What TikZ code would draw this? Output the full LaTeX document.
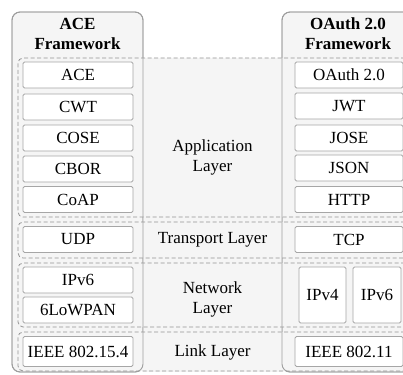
\documentclass[tikz,border=0pt]{standalone}
\usepackage{fontspec}
\setmainfont{Liberation Serif}
\begin{document}
\begin{tikzpicture}[x=1pt,y=-1pt,
  every node/.style={font=\fontsize{17}{20}\selectfont, inner sep=0pt},
  colbox/.style={draw=black!38, fill=black!4, line width=0.9pt, rounded corners=8pt},
  colrim/.style={draw=black!38, line width=0.9pt, rounded corners=8pt},
  layerbox/.style={draw=black!42, fill=black!4, dashed, dash pattern=on 4pt off 2.5pt, line width=0.8pt, rounded corners=5pt},
  pbox/.style={draw=black!35, fill=white, line width=0.8pt, rounded corners=1.5pt, minimum width=110pt, minimum height=26pt},
  rbox/.style={pbox, minimum width=108pt},
  title/.style={align=center, font=\fontsize{17}{20}\selectfont\bfseries},
  lbl/.style={align=center}]
\useasboundingbox (0,0) rectangle (403,374);

% framework columns
\node[colbox, minimum width=131pt, minimum height=360pt] (acecol) at (77.5,192) {};
\node[colbox, minimum width=132pt, minimum height=360pt] (oacol) at (348,192) {};
\fill[black!4] (143,58) rectangle (282,372);

% protocol layers
\node[layerbox, minimum width=392pt, minimum height=159pt] (app) at (214,137.5) {};
\node[layerbox, minimum width=392pt, minimum height=36pt] (trans) at (214,240) {};
\node[layerbox, minimum width=392pt, minimum height=64pt] (net) at (214,295) {};
\node[layerbox, minimum width=392pt, minimum height=39pt] (link) at (214,351.5) {};

% column outlines over the layers
\node[colrim, minimum width=131pt, minimum height=360pt] (acerim) at (77.5,192) {};
\node[colrim, minimum width=132pt, minimum height=360pt] (oarim) at (348,192) {};

% titles
\node[title] (acetitle) at (77.5,34) {ACE\\Framework};
\node[title] (oatitle) at (348,34) {OAuth 2.0\\Framework};

% ACE stack
\node[pbox] (ace) at (78,75) {ACE};
\node[pbox] (cwt) at (78,107) {CWT};
\node[pbox] (cose) at (78,138) {COSE};
\node[pbox] (cbor) at (78,169) {CBOR};
\node[pbox] (coap) at (78,199.5) {CoAP};
\node[pbox] (udp) at (78,239.5) {UDP};
\node[pbox] (ipvsix) at (78,280) {IPv6};
\node[pbox] (lowpan) at (78,310) {6LoWPAN};
\node[pbox, minimum height=30pt] (ieeeA) at (78,351.5) {IEEE 802.15.4};

% OAuth stack
\node[rbox] (oauth) at (349,75) {OAuth 2.0};
\node[rbox] (jwt) at (349,106) {JWT};
\node[rbox] (jose) at (349,138) {JOSE};
\node[rbox] (json) at (349,168) {JSON};
\node[rbox] (http) at (349,199.5) {HTTP};
\node[rbox] (tcp) at (349,239.5) {TCP};
\node[pbox, minimum width=47pt, minimum height=56pt] (ipvfour) at (322.5,295) {IPv4};
\node[pbox, minimum width=48pt, minimum height=56pt] (ipvsixB) at (377,295) {IPv6};
\node[rbox, minimum height=30pt] (ieeeB) at (349,351.5) {IEEE 802.11};

% layer names
\node[lbl] (applbl) at (212.5,157) {Application\\Layer};
\node[lbl] (translbl) at (212.5,240) {Transport Layer};
\node[lbl] (netlbl) at (212.5,299) {Network\\Layer};
\node[lbl] (linklbl) at (212.5,352) {Link Layer};
\end{tikzpicture}
\end{document}
